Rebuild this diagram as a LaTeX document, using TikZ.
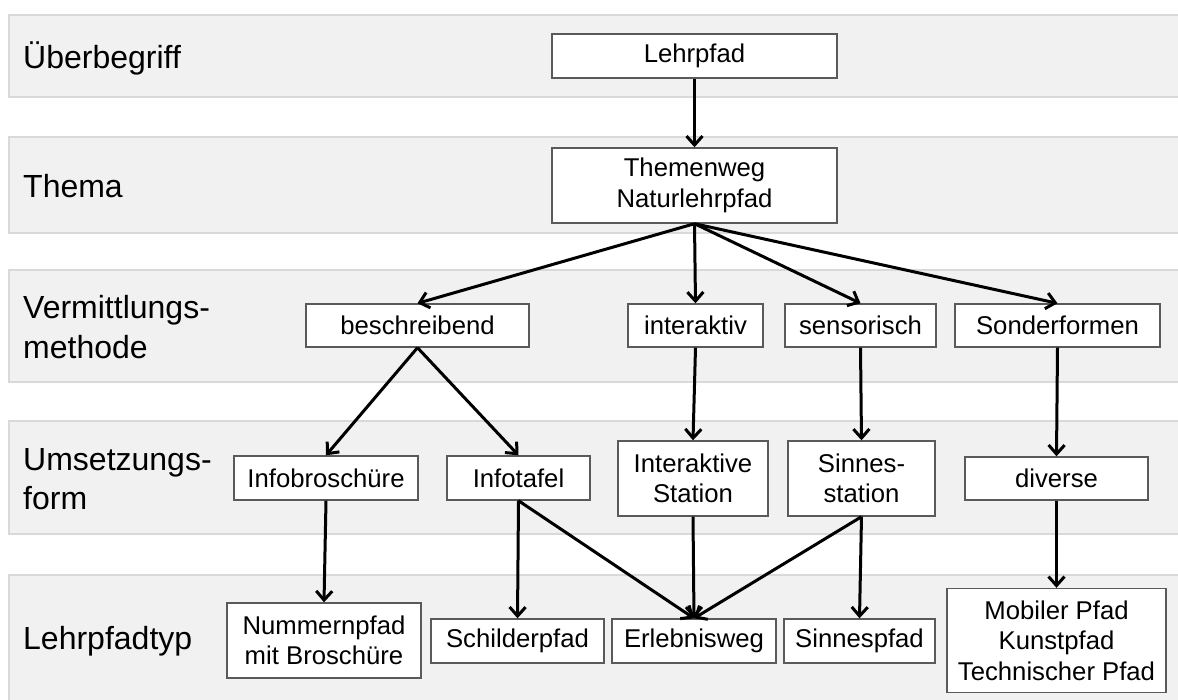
\documentclass[tikz,border=0pt]{standalone}
\usepackage{fontspec}
\setmainfont{Liberation Sans}
\usetikzlibrary{arrows.meta}
\definecolor{bandfill}{HTML}{F1F1F1}
\definecolor{banddraw}{HTML}{D9D9D9}
\definecolor{boxdraw}{HTML}{5A5A5A}
\tikzset{
  band/.style={fill=bandfill, draw=banddraw, line width=2pt},
  lbl/.style={anchor=west, inner sep=0pt, align=left, font=\fontsize{32}{39.5}\selectfont},
  box/.style={draw=boxdraw, fill=white, line width=1.4pt, inner sep=0pt, align=center,
              font=\fontsize{25.7}{30.5}\selectfont},
  conn/.style={line width=3pt, -{Straight Barb[length=9pt,width=16pt,line width=3pt]}},
}
\begin{document}
\begin{tikzpicture}[x=1pt,y=-1pt]
\useasboundingbox (0,0) rectangle (1178,699);
\fill[white] (0,0) rectangle (1178,699);
\clip (0,0) rectangle (1178,699);
% bands
\draw[band] (9,15) rectangle (1190,97);
\draw[band] (9,137) rectangle (1190,233);
\draw[band] (9,270) rectangle (1190,382);
\draw[band] (9,421) rectangle (1190,534);
\draw[band] (9,575) rectangle (1190,710);
% band labels
\node[lbl] (l1) at (23,58) {Überbegriff};
\node[lbl] (l2) at (23,186) {Thema};
\node[lbl] (l3) at (23,327) {Vermittlungs-\\methode};
\node[lbl] (l4) at (23,479) {Umsetzungs-\\form};
\node[lbl] (l5) at (23,641) {Lehrpfadtyp};
% boxes
\node[box, minimum width=285pt, minimum height=44pt] (lehr) at (694.5,56) {Lehrpfad};
\node[box, minimum width=285pt, minimum height=75pt] (thema) at (694.5,185.5) {Themenweg\\Naturlehrpfad};
\node[box, minimum width=223pt, minimum height=43pt] (besch) at (417.5,325.5) {beschreibend};
\node[box, minimum width=135pt, minimum height=43pt] (inter) at (695.5,325.5) {interaktiv};
\node[box, minimum width=151pt, minimum height=43pt] (senso) at (860.5,325.5) {sensorisch};
\node[box, minimum width=205pt, minimum height=43pt] (sonder) at (1057.5,325.5) {Sonderformen};
\node[box, minimum width=184pt, minimum height=44pt] (infob) at (326,478) {Infobroschüre};
\node[box, minimum width=143pt, minimum height=44pt] (infot) at (518.5,478) {Infotafel};
\node[box, minimum width=150pt, minimum height=75pt] (istat) at (693,478.5) {Interaktive\\Station};
\node[box, minimum width=147pt, minimum height=75pt] (sstat) at (861.5,478.5) {Sinnes-\\station};
\node[box, minimum width=183pt, minimum height=43pt] (div) at (1056.5,478.5) {diverse};
\node[box, minimum width=194pt, minimum height=75pt] (numm) at (324,640.5) {Nummernpfad\\mit Broschüre};
\node[box, minimum width=173pt, minimum height=44pt] (schild) at (517.5,641) {Schilderpfad};
\node[box, minimum width=164pt, minimum height=44pt] (erleb) at (694,641) {Erlebnisweg};
\node[box, minimum width=151pt, minimum height=44pt] (sinnp) at (859.5,641) {Sinnespfad};
\node[box, minimum width=219pt, minimum height=104pt] (mobil) at (1056.5,640.5) {Mobiler Pfad\\Kunstpfad\\Technischer Pfad};
% connectors
\draw[conn] (lehr.south) -- (thema.north);
\draw[conn] (thema.south) -- (besch.north);
\draw[conn] (thema.south) -- (inter.north);
\draw[conn] (thema.south) -- (senso.north);
\draw[conn] (thema.south) -- (sonder.north);
\draw[conn] (besch.south) -- (infob.north);
\draw[conn] (besch.south) -- (infot.north);
\draw[conn] (inter.south) -- (istat.north);
\draw[conn] (senso.south) -- (sstat.north);
\draw[conn] (sonder.south) -- (div.north);
\draw[conn] (infob.south) -- (numm.north);
\draw[conn] (infot.south) -- (schild.north);
\draw[conn] (infot.south) -- (erleb.north);
\draw[conn] (istat.south) -- (erleb.north);
\draw[conn] (sstat.south) -- (erleb.north);
\draw[conn] (sstat.south) -- (sinnp.north);
\draw[conn] (div.south) -- (mobil.north);
\end{tikzpicture}
\end{document}
